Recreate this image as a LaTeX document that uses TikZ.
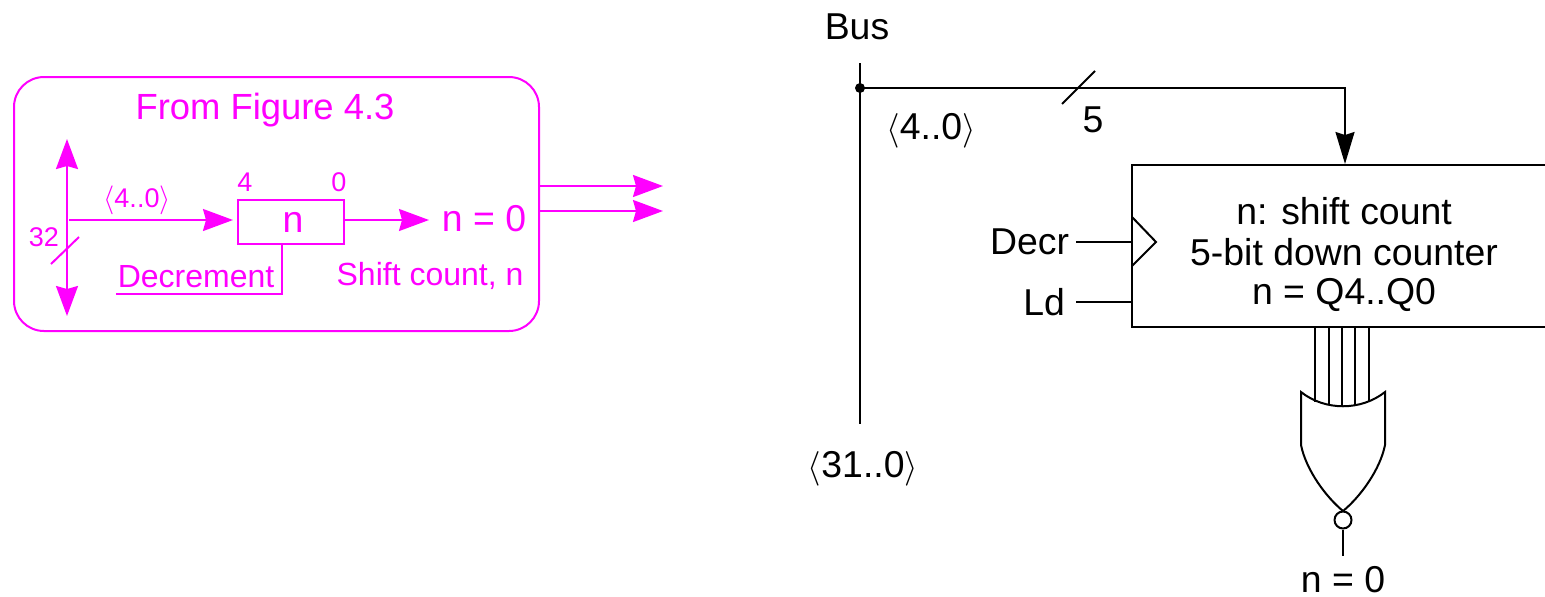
\documentclass[tikz,border=0pt]{standalone}
\usepackage{fontspec}
\setmainfont{Liberation Sans}
\usetikzlibrary{positioning,arrows.meta,calc}
\definecolor{figpink}{RGB}{255,0,255}
\tikzset{>={Stealth[length=16pt,width=9.5pt,inset=1.5pt]}}
\tikzset{
  widehead/.style={>={Stealth[length=15pt,width=11pt,inset=1.5pt]}},
  bigtext/.style={inner sep=0pt,font=\fontsize{18.7}{23}\selectfont},
  midtext/.style={inner sep=0pt,font=\fontsize{16}{19}\selectfont},
  tinytext/.style={inner sep=0pt,font=\fontsize{13.5}{16}\selectfont},
  wire/.style={line width=1pt,line cap=butt},
}
\begin{document}
\begin{tikzpicture}[x=0.5pt,y=-0.5pt,wire]
  \useasboundingbox (0,0) rectangle (1545,596);
  % left part
  \begin{scope}[figpink,widehead,every node/.append style={text=figpink}]
    \node[draw,rounded corners=15pt,minimum width=262.5pt,minimum height=127pt,inner sep=0pt] (frombox) at (276.5,204) {};
    \node[bigtext,font=\fontsize{18.2}{22}\selectfont] (fromtitle) at (265,110) {From Figure 4.3};
    \node[draw,minimum width=53pt,minimum height=22pt,inner sep=0pt,bigtext] (nreg) at (291,222) {\hspace*{2pt}n};
    \node[tinytext] (regfour) at (245,182) {4};
    \node[tinytext] (regzero) at (339,182) {0};
    \node[tinytext] (nbits) at (137,200) {$\langle$4..0$\rangle$};
    \node[tinytext] (buswidth) at (44,237) {32};
    \node[bigtext] (nzero) at (484,219) {n = 0};
    \node[midtext] (decrlabel) at (196,277) {Decrement};
    \node[midtext] (shiftlabel) at (430,276) {Shift count, n};
    \coordinate (bustop) at (67,139);
    \coordinate (busbot) at (67,316);
    \coordinate (bustap) at (69,220);
    \coordinate (regin) at (233,220);
    \coordinate (nzeroin) at (429,220);
    \coordinate (decrend) at (116,294);
    \coordinate (decrcorner) at (282,294);
    \coordinate (outa) at (663,186);
    \coordinate (outb) at (663,211);
    \coordinate (slasha) at (51,264);
    \coordinate (slashb) at (79,237);
    \draw[<->] (busbot) -- (bustop);
    \draw (slasha) -- (slashb);
    \draw[->] (bustap) -- (regin);
    \draw[->] (nreg.east |- nzeroin) -- (nzeroin);
    \draw (decrend) -- (decrcorner) -- (decrcorner |- nreg.south);
    \draw[->] (frombox.east |- outa) -- (outa);
    \draw[->] (frombox.east |- outb) -- (outb);
  \end{scope}
  % right part
  \node[bigtext] (buslabel) at (857,27) {Bus};
  \node[bigtext] (busrange) at (863,469) {$\langle$31..0$\rangle$};
  \node[bigtext] (tapbits) at (931,131) {$\langle$4..0$\rangle$};
  \node[bigtext] (tapwidth) at (1093,120) {5};
  \node[draw,minimum width=207pt,minimum height=81pt,inner sep=0pt,anchor=north west] (counter) at (1130.5,164) {};
  \node[bigtext] (countera) at (1344,211) {n: shift count};
  \node[bigtext] (counterb) at (1344,252) {5-bit down counter};
  \node[bigtext] (counterc) at (1344,295) {n = Q4..Q0};
  \node[bigtext,anchor=east] (decr) at (1070,242) {Decr};
  \node[bigtext,anchor=east] (ld) at (1066,302) {Ld};
  \node[bigtext] (gateout) at (1343,580) {n = 0};
  \coordinate (bustopr) at (860,63);
  \coordinate (busbotr) at (860,424);
  \coordinate (tap) at (860,88);
  \coordinate (tapcorner) at (1345,88);
  \coordinate (decrin) at (1076,242);
  \coordinate (ldin) at (1076,302);
  \coordinate (gatel) at (1301,392);
  \coordinate (gater) at (1385,392);
  \coordinate (gatetip) at (1343,511);
  \node[draw,circle,minimum size=8.5pt,inner sep=0pt] (bubble) at (1343,520) {};
  \coordinate (outend) at (1343,556);
  \draw (bustopr) -- (busbotr);
  \fill (tap) circle (2.5pt);
  \draw[->] (tap) -- (tapcorner) -- (tapcorner |- counter.north);
  \draw (1062,104) -- (1095,71);
  \draw (decrin) -- (decrin -| counter.west);
  \draw (ldin) -- (ldin -| counter.west);
  \draw (1132,217) -- (1156,242) -- (1132,266);
  % five count lines
  \foreach \wx/\wy in {1315/402,1329/405,1342/406,1355/405,1369/402}
    \draw[line width=0.8pt] (\wx,327) -- (\wx,\wy);
  \draw (gatel) .. controls (1325,411) and (1361,411) .. (gater)
        -- (1385,445) .. controls (1380,470) and (1360,497) .. (gatetip)
        .. controls (1326,497) and (1306,470) .. (1301,445) -- cycle;
  \draw (bubble.south) -- (outend);
\end{tikzpicture}
\end{document}
